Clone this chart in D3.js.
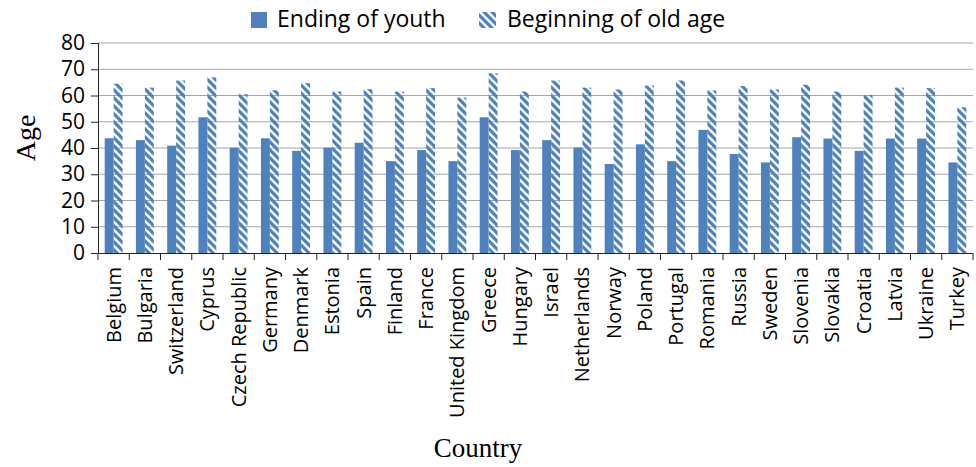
<!DOCTYPE html>
<html>
<head>
<meta charset="utf-8" />
<title>Ending of youth and beginning of old age</title>
<script src="https://d3js.org/d3.v7.min.js"></script>
<style>
  body { margin: 0; background: #fff; }
  .tick text { font-family: "Open Sans", sans-serif; fill: #000; }
</style>
</head>
<body>
<svg id="chart" width="976" height="467"></svg>
<script>
var countries = ["Belgium", "Bulgaria", "Switzerland", "Cyprus", "Czech Republic", "Germany",
  "Denmark", "Estonia", "Spain", "Finland", "France", "United Kingdom", "Greece", "Hungary",
  "Israel", "Netherlands", "Norway", "Poland", "Portugal", "Romania", "Russia", "Sweden",
  "Slovenia", "Slovakia", "Croatia", "Latvia", "Ukraine", "Turkey"];

var endingOfYouth = [43.7, 43.0, 40.9, 51.7, 40.1, 43.7, 38.9, 40.1, 42.0, 35.0, 39.2, 35.0, 51.7, 39.2,
  43.0, 40.2, 33.9, 41.4, 35.0, 46.9, 37.7, 34.5, 44.1, 43.6, 38.9, 43.6, 43.6, 34.5];

var beginningOfOldAge = [64.5, 63.0, 65.7, 66.9, 60.5, 62.0, 64.7, 61.5, 62.4, 61.5, 62.8, 59.2, 68.5, 61.5,
  65.7, 63.0, 62.3, 63.8, 65.7, 61.9, 63.6, 62.3, 64.1, 61.5, 60.2, 63.0, 62.8, 55.5];

var seriesNames = ["Ending of youth", "Beginning of old age"];
var yTicks = [0, 10, 20, 30, 40, 50, 60, 70, 80];

var blue = "#4f81bd";
var svg = d3.select("#chart");

// plot box (note: "top" is reserved on window, so prefix these)
var plotLeft = 98, plotRight = 973, plotTop = 43, plotBottom = 253;

// wide diagonal hatch for the second series
var defs = svg.append("defs");
var pat = defs.append("pattern")
    .attr("id", "hatch")
    .attr("patternUnits", "userSpaceOnUse")
    .attr("width", 8)
    .attr("height", 8);
pat.append("path")
    .attr("d", "M-2,-2 L10,10 M-2,6 L2,10 M6,-2 L10,2")
    .attr("stroke", blue)
    .attr("stroke-width", 3.2);

var x = d3.scaleBand().domain(countries).range([plotLeft, plotRight]).padding(0);
var x1 = d3.scaleBand().domain(seriesNames).range([0, x.bandwidth()])
    .paddingInner(0).paddingOuter(0.75);
var y = d3.scaleLinear().domain([0, 80]).range([plotBottom, plotTop]);

// gridlines
svg.append("g").selectAll("line")
  .data(yTicks.filter(function(d) { return d > 0; }))
  .enter().append("line")
    .attr("x1", plotLeft).attr("x2", plotRight)
    .attr("y1", function(d) { return y(d); })
    .attr("y2", function(d) { return y(d); })
    .attr("stroke", "#a6a6a6")
    .attr("stroke-width", 1.2);

// bars
var rows = countries.map(function(c, i) {
  return { country: c, youth: endingOfYouth[i], old: beginningOfOldAge[i] };
});

svg.append("g").selectAll("rect")
  .data(rows).enter().append("rect")
    .attr("x", function(d) { return x(d.country) + x1(seriesNames[0]); })
    .attr("y", function(d) { return y(d.youth); })
    .attr("width", x1.bandwidth())
    .attr("height", function(d) { return y(0) - y(d.youth); })
    .attr("fill", blue);

svg.append("g").selectAll("rect")
  .data(rows).enter().append("rect")
    .attr("x", function(d) { return x(d.country) + x1(seriesNames[1]); })
    .attr("y", function(d) { return y(d.old); })
    .attr("width", x1.bandwidth())
    .attr("height", function(d) { return y(0) - y(d.old); })
    .attr("fill", "url(#hatch)");

// y axis
var yAxis = svg.append("g")
    .attr("transform", "translate(" + plotLeft + ",0)")
    .call(d3.axisLeft(y).tickValues(yTicks).tickSize(7).tickPadding(6));
yAxis.select(".domain").attr("stroke", "#222");
yAxis.selectAll(".tick line").attr("stroke", "#222");
yAxis.selectAll(".tick text").attr("font-size", 21);

// x axis: labels at band centres, ticks at band edges
var xAxis = svg.append("g")
    .attr("transform", "translate(0," + plotBottom + ")")
    .call(d3.axisBottom(x).tickSize(0).tickPadding(0));
xAxis.select(".domain").attr("stroke", "#222").attr("d", "M" + plotLeft + ",0.5H" + plotRight);
xAxis.selectAll(".tick text")
    .attr("font-size", 20)
    .attr("transform", "rotate(-90)")
    .attr("text-anchor", "end")
    .attr("x", -14)
    .attr("y", 0)
    .attr("dy", "0.35em");

var edges = countries.map(function(c) { return x(c); }).concat([plotRight]);
svg.append("g").selectAll("line")
  .data(edges).enter().append("line")
    .attr("x1", function(d) { return d; }).attr("x2", function(d) { return d; })
    .attr("y1", plotBottom).attr("y2", plotBottom + 7)
    .attr("stroke", "#222");

// axis titles
svg.append("text")
    .attr("transform", "translate(35,138) rotate(-90)")
    .attr("text-anchor", "middle")
    .attr("font-family", "Liberation Serif, serif")
    .attr("font-size", 28)
    .text("Age");

svg.append("text")
    .attr("x", 478).attr("y", 457)
    .attr("text-anchor", "middle")
    .attr("font-family", "Liberation Serif, serif")
    .attr("font-size", 27)
    .text("Country");

// legend
var legend = svg.append("g").attr("font-family", "Open Sans, sans-serif").attr("font-size", 23);
legend.append("rect").attr("x", 251).attr("y", 12).attr("width", 16).attr("height", 16).attr("fill", blue);
legend.append("text").attr("x", 277).attr("y", 27).text(seriesNames[0]);
legend.append("rect").attr("x", 479).attr("y", 12).attr("width", 17).attr("height", 16).attr("fill", "url(#hatch)");
legend.append("text").attr("x", 507).attr("y", 27).text(seriesNames[1]);
</script>
</body>
</html>
